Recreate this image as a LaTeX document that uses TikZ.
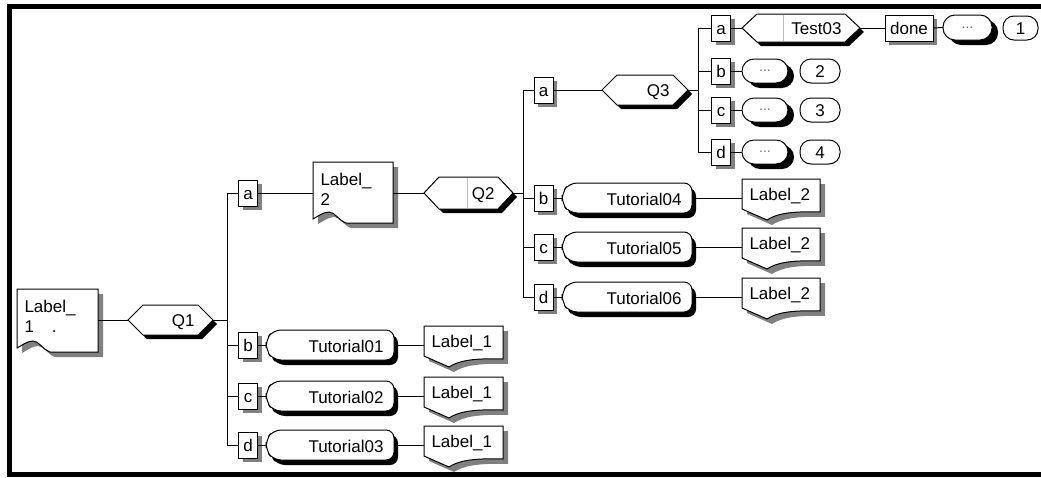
\documentclass[tikz,border=0pt]{standalone}
\usepackage{fontspec}
\setmainfont{Liberation Sans}
\tikzset{
  txt/.style={inner sep=0pt, font=\fontsize{17}{20}\selectfont},
  anchorbox/.style={inner sep=0pt, outer sep=0pt},
  smallbox/.style={draw, fill=white, inner sep=0pt, outer sep=0pt, minimum height=26pt, text height=12pt, text depth=0pt, txt},
  endcircle/.style={draw, fill=white, rounded corners=11pt, inner sep=0pt, outer sep=0pt, minimum width=36pt, minimum height=24pt, text height=12pt, text depth=0pt, txt},
  dots/.style={draw, fill=white, rounded corners=12pt, inner sep=0pt, outer sep=0pt, font=\fontsize{14}{14}\selectfont, text=black!55},
  boxshadow/.style={fill=black!50},
  sep/.style={draw=black!25, line width=0.8pt},
}
% hexagon: name x1 y1 x2 y2 text
\newcommand\HexNode[6]{%
  \begin{scope}[shift={(4,4)}]
    \fill[black] (#2,{(#3+#5)/2}) -- ({#2+15},#3) -- ({#4-15},#3) -- (#4,{(#3+#5)/2}) -- ({#4-15},#5) -- ({#2+15},#5) -- cycle;
  \end{scope}
  \draw[fill=white] (#2,{(#3+#5)/2}) -- ({#2+15},#3) -- ({#4-15},#3) -- (#4,{(#3+#5)/2}) -- ({#4-15},#5) -- ({#2+15},#5) -- cycle;
  \node[anchorbox, minimum width={#4-#2}, minimum height={#5-#3}] (#1) at ({(#2+#4)/2},{(#3+#5)/2}) {};
  \node[txt, anchor=base east] at ({#4-18},{(#3+#5)/2+6}) {#6};
}
% tutorial shape: name x1 y1 x2 y2 text
\newcommand\TutNode[6]{%
  \begin{scope}[shift={(4,5)}]
    \fill[black, rounded corners=8pt] ({#2+7},#3) -- (#4,#3) -- (#4,#5) -- ({#2+7},#5) -- (#2,{#5-10}) -- (#2,{#3+10}) -- cycle;
  \end{scope}
  \draw[fill=white, rounded corners=8pt] ({#2+7},#3) -- (#4,#3) -- (#4,#5) -- ({#2+7},#5) -- (#2,{#5-10}) -- (#2,{#3+10}) -- cycle;
  \node[anchorbox, minimum width={#4-#2}, minimum height={#5-#3}] (#1) at ({(#2+#4)/2},{(#3+#5)/2}) {};
  \node[txt, anchor=base east] at ({#4-10},{(#3+#5)/2+7}) {#6};
}
% oval: name x1 y1 x2 y2
\newcommand\OvalNode[5]{%
  \fill[black, rounded corners=12pt] ({#2+6},{#3+5}) rectangle ({#4+6},{#5+5});
  \node[dots, minimum width={#4-#2}, minimum height={#5-#3}] (#1) at ({(#2+#4)/2},{(#3+#5)/2}) {...};
}
% small box: name xc yc width text
\newcommand\SBox[5]{%
  \fill[boxshadow] ({#2-#4/2+4},{#3-13+4}) rectangle ({#2+#4/2+4},{#3+13+4});
  \node[smallbox, minimum width={#4}] (#1) at (#2,#3) {#5};
}
% small label: name x1 x2 row text
\newcommand\SmallLab[5]{%
  \begin{scope}[shift={(5,5)}]
    \fill[boxshadow] (#2,{#4-19}) -- (#3,{#4-19}) -- (#3,{#4+14}) .. controls ({#2+48},{#4+13}) and ({#2+34},{#4+16}) .. ({#2+25},{#4+22}) -- (#2,{#4+11}) -- cycle;
  \end{scope}
  \draw[fill=white] (#2,{#4-19}) -- (#3,{#4-19}) -- (#3,{#4+14}) .. controls ({#2+48},{#4+13}) and ({#2+34},{#4+16}) .. ({#2+25},{#4+22}) -- (#2,{#4+11}) -- cycle;
  \node[anchorbox, minimum width={#3-#2}, minimum height=30] (#1) at ({(#2+#3)/2},#4) {};
  \node[txt, anchor=base west] at ({#2+7},{#4+2}) {#5};
}
% big label: name x1 y1 x2 y2 row secondline
\newcommand\BigLab[7]{%
  \begin{scope}[shift={(5,5)}]
    \fill[boxshadow] (#2,#3) -- (#4,#3) -- (#4,#5) -- ({#2+33},#5) .. controls ({#2+25},{#5-3}) and ({#2+22},{#5-11}) .. ({#2+16},{#5-11}) .. controls ({#2+10},{#5-11}) and ({#2+4},{#5-6}) .. (#2,{#5-4}) -- cycle;
  \end{scope}
  \draw[fill=white] (#2,#3) -- (#4,#3) -- (#4,#5) -- ({#2+33},#5) .. controls ({#2+25},{#5-3}) and ({#2+22},{#5-11}) .. ({#2+16},{#5-11}) .. controls ({#2+10},{#5-11}) and ({#2+4},{#5-6}) .. (#2,{#5-4}) -- cycle;
  \node[anchorbox, minimum width={#4-#2}, minimum height=30] (#1) at ({(#2+#4)/2},#6) {};
  \node[txt, anchor=base west] at ({#2+7},{#3+23}) {Label\_};
  \node[txt, anchor=base west] at ({#2+7},{#3+43}) {#7};
}
\begin{document}
\begin{tikzpicture}[x=1pt, y=-1pt, line width=1pt]
\useasboundingbox (0,0) rectangle (1041,477);
\fill[white] (0,0) rectangle (1041,477);
% frame
\fill[black] (7,3.5) rectangle (12,477);
\fill[black] (7,3.5) rectangle (1041,8.5);
\fill[black] (7,472) rectangle (1041,477);

% level 0
\BigLab{l1}{17}{289}{98}{352}{320}{1\hspace{18pt}.}
\HexNode{q1}{128}{305}{213}{335}{Q1}
\coordinate (j1) at (227,320);

% level 1
\SBox{a1}{248}{193}{19}{a}
\SBox{b1}{248}{345}{19}{b}
\SBox{c1}{248}{396}{19}{c}
\SBox{d1}{248}{445}{19}{d}
\BigLab{l2}{313}{162}{393}{223}{193}{2}
\HexNode{q2}{424}{177}{513}{209}{Q2}
\draw[sep] (467,178) -- (467,208);
\TutNode{t1}{266}{330}{394}{360}{Tutorial01}
\TutNode{t2}{266}{381}{394}{411}{Tutorial02}
\TutNode{t3}{266}{430}{394}{460}{Tutorial03}
\SmallLab{k1}{424}{503}{345}{Label\_1}
\SmallLab{k2}{424}{503}{396}{Label\_1}
\SmallLab{k3}{424}{503}{445}{Label\_1}
\coordinate (j2) at (523,193);

% level 2
\SBox{a2}{543.5}{90}{19}{a}
\SBox{b2}{543.5}{198}{19}{b}
\SBox{c2}{543.5}{247}{19}{c}
\SBox{d2}{543.5}{297}{19}{d}
\HexNode{q3}{602}{75}{688}{105}{Q3}
\TutNode{t4}{562}{183}{692}{213}{Tutorial04}
\TutNode{t5}{562}{232}{692}{262}{Tutorial05}
\TutNode{t6}{562}{282}{692}{312}{Tutorial06}
\SmallLab{m1}{742}{820}{198}{Label\_2}
\SmallLab{m2}{742}{820}{247}{Label\_2}
\SmallLab{m3}{742}{820}{297}{Label\_2}
\coordinate (j3) at (698,90);

% level 3
\SBox{a3}{721}{28}{19}{a}
\SBox{b3}{721}{71}{19}{b}
\SBox{c3}{721}{110}{19}{c}
\SBox{d3}{721}{152}{19}{d}
\HexNode{te}{742}{14}{860}{42}{Test03}
\draw[sep] (783,15) -- (783,41);
\SBox{dn}{909}{28}{48}{done}
\OvalNode{o1}{943}{15}{992}{40}
\OvalNode{o2}{742}{59}{788}{83}
\OvalNode{o3}{742}{98}{788}{122}
\OvalNode{o4}{742}{140}{788}{164}
\node[endcircle, minimum width=35pt] (e1) at (1020.5,28) {1};
\node[endcircle, minimum width=40pt] (e2) at (820,71) {2};
\node[endcircle, minimum width=40pt] (e3) at (820,110) {3};
\node[endcircle, minimum width=40pt] (e4) at (820,152) {4};

% connectors
\draw (l1.east) -- (q1.west);
\draw (q1.east) -- (j1);
\foreach \n in {a1,b1,c1,d1} \draw (\n.west) -| (j1);
\draw (a1.east) -- (l2.west);
\draw (l2.east) -- (q2.west);
\draw (q2.east) -- (j2);
\draw (b1.east) -- (t1.west);
\draw (c1.east) -- (t2.west);
\draw (d1.east) -- (t3.west);
\draw (t1.east) -- (k1.west);
\draw (t2.east) -- (k2.west);
\draw (t3.east) -- (k3.west);
\foreach \n in {a2,b2,c2,d2} \draw (\n.west) -| (j2);
\draw (a2.east) -- (q3.west);
\draw (q3.east) -- (j3);
\draw (b2.east) -- (t4.west);
\draw (c2.east) -- (t5.west);
\draw (d2.east) -- (t6.west);
\draw (t4.east) -- (m1.west);
\draw (t5.east) -- (m2.west);
\draw (t6.east) -- (m3.west);
\foreach \n in {a3,b3,c3,d3} \draw (\n.west) -| (j3);
\draw (a3.east) -- (te.west);
\draw (te.east) -- (dn.west);
\draw (dn.east) -- (o1.west);
\draw (b3.east) -- (o2.west);
\draw (c3.east) -- (o3.west);
\draw (d3.east) -- (o4.west);
\end{tikzpicture}
\end{document}
